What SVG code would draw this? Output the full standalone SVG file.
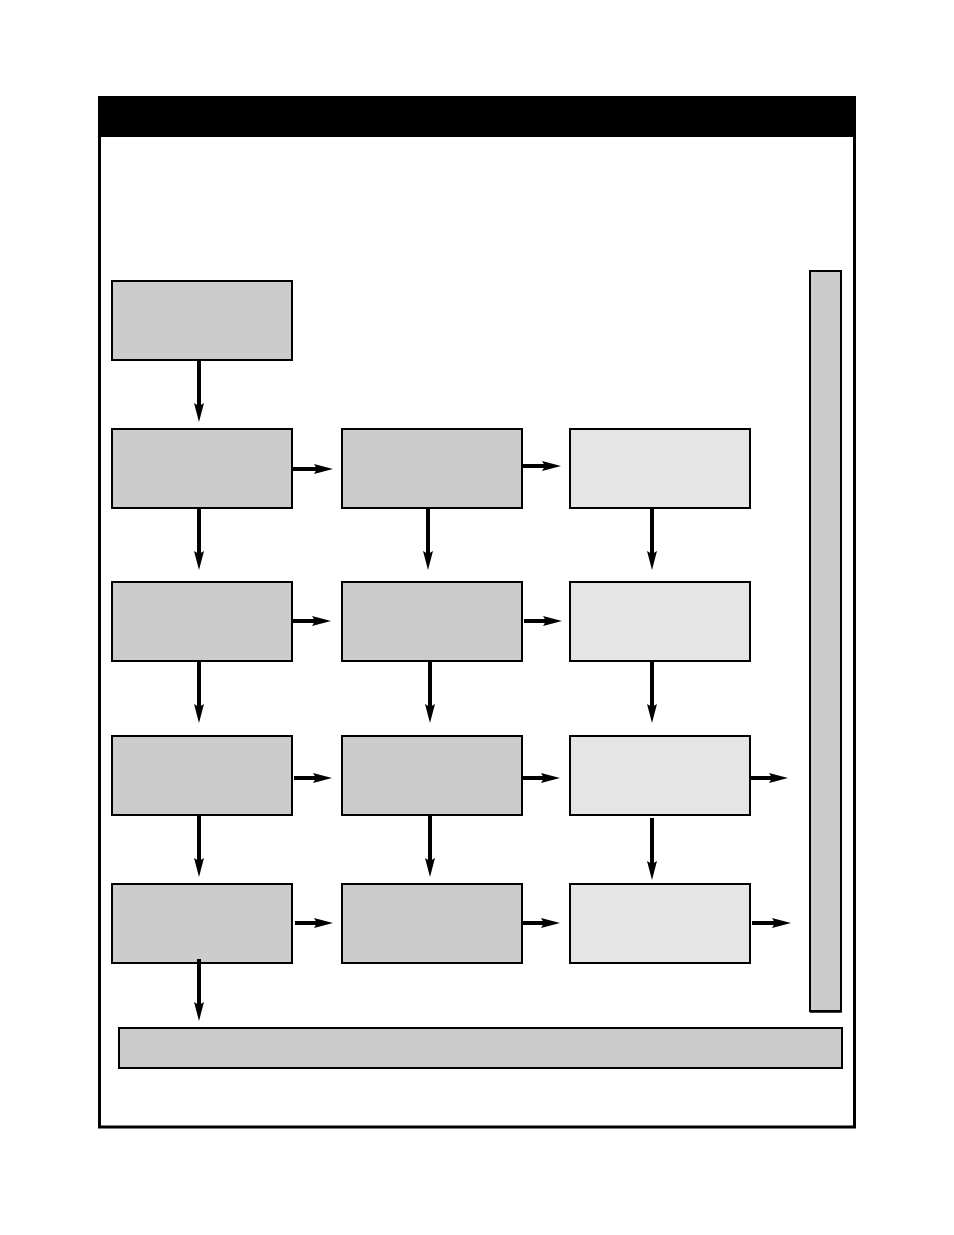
<svg xmlns="http://www.w3.org/2000/svg" width="954" height="1235" viewBox="0 0 954 1235">
<style>
.box{fill:#cccccc;stroke:#000;stroke-width:2}
.lt{fill:#e5e5e5}
.bar{fill:#cccccc;stroke:#000;stroke-width:2}
.arr{stroke:#000;stroke-width:4;fill:none;marker-end:url(#ah)}
</style>
<defs>
<marker id="ah" markerUnits="userSpaceOnUse" markerWidth="22" markerHeight="12" viewBox="0 -6 22 12" refX="3" refY="0" orient="auto">
<path d="M0,-5 L19,0 L0,5 L3,0 Z" fill="#000"/>
</marker>
</defs>
<rect width="954" height="1235" fill="#fff"/>
<g id="frame">
<rect x="99.5" y="97.5" width="755" height="1029.5" fill="none" stroke="#000" stroke-width="3"/>
<rect x="98" y="96" width="758" height="41" fill="#000"/>
</g>
<g id="n1"><rect class="box" x="112" y="281" width="180" height="79"/></g>
<g id="n2"><rect class="box" x="112" y="429" width="180" height="79"/></g>
<g id="n3"><rect class="box" x="342" y="429" width="180" height="79"/></g>
<g id="n4"><rect class="box lt" x="570" y="429" width="180" height="79"/></g>
<g id="n5"><rect class="box" x="112" y="582" width="180" height="79"/></g>
<g id="n6"><rect class="box" x="342" y="582" width="180" height="79"/></g>
<g id="n7"><rect class="box lt" x="570" y="582" width="180" height="79"/></g>
<g id="n8"><rect class="box" x="112" y="736" width="180" height="79"/></g>
<g id="n9"><rect class="box" x="342" y="736" width="180" height="79"/></g>
<g id="n10"><rect class="box lt" x="570" y="736" width="180" height="79"/></g>
<g id="n11"><rect class="box" x="112" y="884" width="180" height="79"/></g>
<g id="n12"><rect class="box" x="342" y="884" width="180" height="79"/></g>
<g id="n13"><rect class="box lt" x="570" y="884" width="180" height="79"/></g>
<g id="rightbar"><rect class="bar" x="810" y="271" width="31" height="740"/><path d="M841,271 V1012 H810" fill="none" stroke="#000" stroke-width="1.5"/></g>
<g id="bottombar"><rect class="bar" x="119" y="1028" width="723" height="40"/></g>
<g id="connectors">
<line class="arr" x1="199" y1="360" x2="199" y2="406"/>
<line class="arr" x1="199" y1="508" x2="199" y2="554"/>
<line class="arr" x1="428" y1="508" x2="428" y2="554"/>
<line class="arr" x1="652" y1="508" x2="652" y2="554"/>
<line class="arr" x1="199" y1="661" x2="199" y2="707"/>
<line class="arr" x1="430" y1="661" x2="430" y2="707"/>
<line class="arr" x1="652" y1="661" x2="652" y2="707"/>
<line class="arr" x1="199" y1="815" x2="199" y2="861"/>
<line class="arr" x1="430" y1="815" x2="430" y2="861"/>
<line class="arr" x1="652" y1="818" x2="652" y2="864"/>
<line class="arr" x1="199" y1="959" x2="199" y2="1005"/>
<line class="arr" x1="292" y1="469" x2="317" y2="469"/>
<line class="arr" x1="522" y1="466" x2="545" y2="466"/>
<line class="arr" x1="292" y1="621" x2="315" y2="621"/>
<line class="arr" x1="524" y1="621" x2="546" y2="621"/>
<line class="arr" x1="294" y1="778" x2="316" y2="778"/>
<line class="arr" x1="522" y1="778" x2="544" y2="778"/>
<line class="arr" x1="750" y1="778" x2="772" y2="778"/>
<line class="arr" x1="295" y1="923" x2="317" y2="923"/>
<line class="arr" x1="522" y1="923" x2="544" y2="923"/>
<line class="arr" x1="752" y1="923" x2="775" y2="923"/>
</g>
</svg>
